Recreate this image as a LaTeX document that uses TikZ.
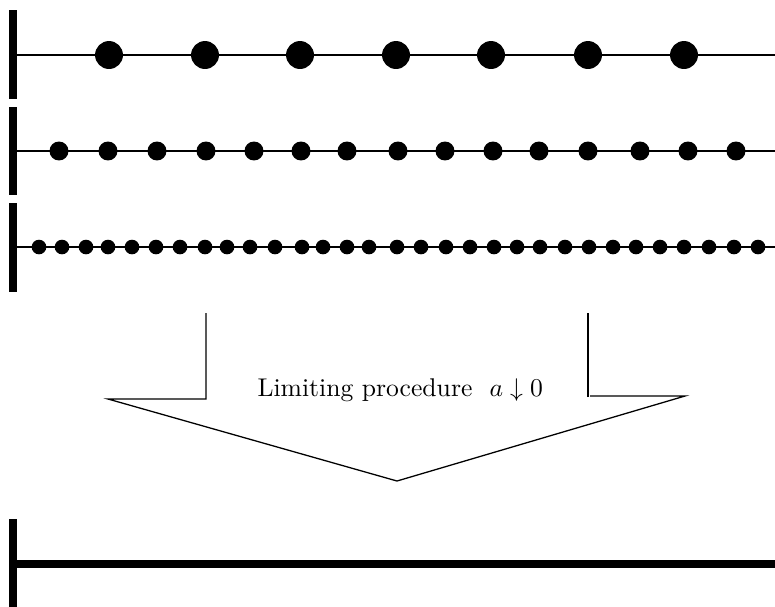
\documentclass[tikz,border=0pt]{standalone}
\begin{document}
\begin{tikzpicture}[x=0.39pt,y=-0.39pt,
  bar/.style={line width=3.12pt},
  axis/.style={line width=0.62pt},
  thickaxis/.style={line width=3.4pt},
  arrowline/.style={line width=0.5pt},
  dotA/.style={circle,fill=black,inner sep=0pt,minimum size=10.9pt},
  dotB/.style={circle,fill=black,inner sep=0pt,minimum size=7.4pt},
  dotC/.style={circle,fill=black,inner sep=0pt,minimum size=5.7pt}]
\useasboundingbox (0,0) rectangle (775,606);
% row 1
\coordinate (b1t) at (13,10); \coordinate (b1b) at (13,99);
\draw[bar] (b1t) -- (b1b);
\coordinate (l1s) at (13,55); \coordinate (l1e) at (776,55);
\draw[axis] (l1s) -- (l1e);
\foreach \x [count=\i] in {109,205,300,396,491,588,684}
  \node[dotA] (a\i) at (\x,55) {};
% row 2
\coordinate (b2t) at (13,107); \coordinate (b2b) at (13,195);
\draw[bar] (b2t) -- (b2b);
\coordinate (l2s) at (13,151); \coordinate (l2e) at (776,151);
\draw[axis] (l2s) -- (l2e);
\foreach \x [count=\i] in {59,108,157,206,254,301,347,398,445,493,539,588,640,688,736}
  \node[dotB] (b\i) at (\x,151) {};
% row 3
\coordinate (b3t) at (13,203); \coordinate (b3b) at (13,292);
\draw[bar] (b3t) -- (b3b);
\coordinate (l3s) at (13,247); \coordinate (l3e) at (776,247);
\draw[axis] (l3s) -- (l3e);
\foreach \x [count=\i] in {39,62,86,108,132,156,180,205,227,250,275,302,323,347,369,397,421,446,470,494,517,540,565,589,613,636,660,684,709,734,758}
  \node[dotC] (c\i) at (\x,247) {};
% arrow
\coordinate (p1) at (206,313);
\coordinate (p2) at (206,399);
\coordinate (p3) at (108,399);
\coordinate (tip) at (397,481);
\coordinate (p5) at (685,396);
\coordinate (p6) at (590,396);
\coordinate (p7) at (588,397);
\coordinate (p8) at (588,313);
\draw[arrowline] (p1) -- (p2) -- (p3) -- (tip) -- (p5) -- (p6);
\draw[arrowline] (p7) -- (p8);
\node[anchor=base west,inner sep=0pt] (lbl) at (257,396) {Limiting procedure\ \ $a\downarrow 0$};
% bottom
\coordinate (b4t) at (13,519); \coordinate (b4b) at (13,607);
\draw[bar] (b4t) -- (b4b);
\coordinate (l4s) at (13,564); \coordinate (l4e) at (776,564);
\draw[thickaxis] (l4s) -- (l4e);
\end{tikzpicture}
\end{document}
